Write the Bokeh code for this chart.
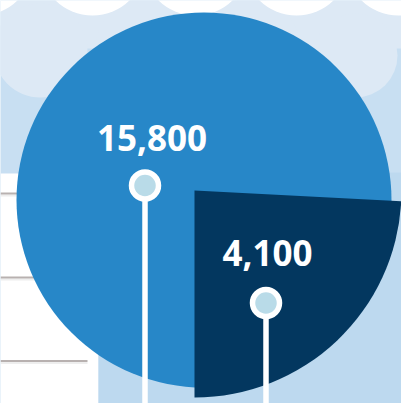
import math
from bokeh.plotting import figure
from bokeh.models import Range1d
from bokeh.embed import file_html
from bokeh.resources import INLINE
from bokeh.core.properties import value

# ---- data ----
categories = ["Larger group", "Smaller group"]
values = [15800, 4100]
labels = ["15,800", "4,100"]

# ---- styling / layout ----
W, H = 401, 403
SKY = "#c8dff2"
CLOUD_BACK = "#dde9f5"
CLOUD_FRONT = "#ffffff"
GROUND_BLUE = "#bdd9ef"
BIG_BLUE = "#2787c8"
DARK_BLUE = "#03375f"
MARK_FILL = "#b9dbe8"


def Y(v):
    if isinstance(v, (list, tuple)):
        return [H - a for a in v]
    return H - v


p = figure(width=W, height=H, x_range=Range1d(0, W), y_range=Range1d(0, H),
           output_backend="svg", toolbar_location=None, min_border=0,
           x_axis_location=None, y_axis_location=None,
           background_fill_color=SKY, border_fill_color="#ffffff",
           outline_line_color=None)
p.grid.visible = False

# sky backdrop + cloud layers
p.quad(left=0, right=W, bottom=Y(48), top=H, color=CLOUD_BACK, line_color=None)
p.circle(x=[40, 145, 250, 355], y=Y([50, 48, 48, 55]), radius=[47, 50, 50, 42],
         color=CLOUD_BACK, line_color=None)
p.circle(x=[-20, 92, 195, 296, 398], y=Y([-38] * 5), radius=53,
         color=CLOUD_FRONT, line_color=None)

# ground: white panel on the left, light blue panel on the right
p.quad(left=0, right=98, bottom=0, top=Y(173), color="#ffffff", line_color=None)
p.quad(left=98, right=W, bottom=0, top=Y(172), color=GROUND_BLUE, line_color=None)

# grey rules on the white panel
p.segment(x0=[0, 0, 0], y0=Y([195, 279, 362.5]), x1=[98, 98, 87], y1=Y([195, 279, 362.5]),
          line_color="#eeeeee", line_width=2)
p.segment(x0=[0, 0, 0], y0=Y([193, 277, 360.5]), x1=[98, 98, 87], y1=Y([193, 277, 360.5]),
          line_color="#b8b1b0", line_width=2)

# pie: big slice as circle, exploded dark slice on top
p.circle(x=203.5, y=Y(199.5), radius=187.5, color=BIG_BLUE, line_color=None)
p.wedge(x=194, y=Y(190), radius=207,
        start_angle=math.radians(-90), end_angle=math.radians(-3),
        color=DARK_BLUE, line_color=None)

# pins
pin_x = [144.5, 265.5]
pin_y = [185, 302.5]
p.segment(x0=pin_x, y0=Y(pin_y), x1=pin_x, y1=[0, 0], line_color="white", line_width=5.5)
p.scatter(x=pin_x, y=Y(pin_y), marker="circle", size=27, fill_color=MARK_FILL,
          line_color="white", line_width=5.5)

# value labels
p.text(x=[151.5, 267], y=Y([137.5, 252]), text=labels,
       text_font=value("Open Sans"), text_font_style="bold", text_font_size="35px",
       text_color="white", text_align="center", text_baseline="alphabetic")

open("out.html", "w").write(file_html(p, INLINE))
